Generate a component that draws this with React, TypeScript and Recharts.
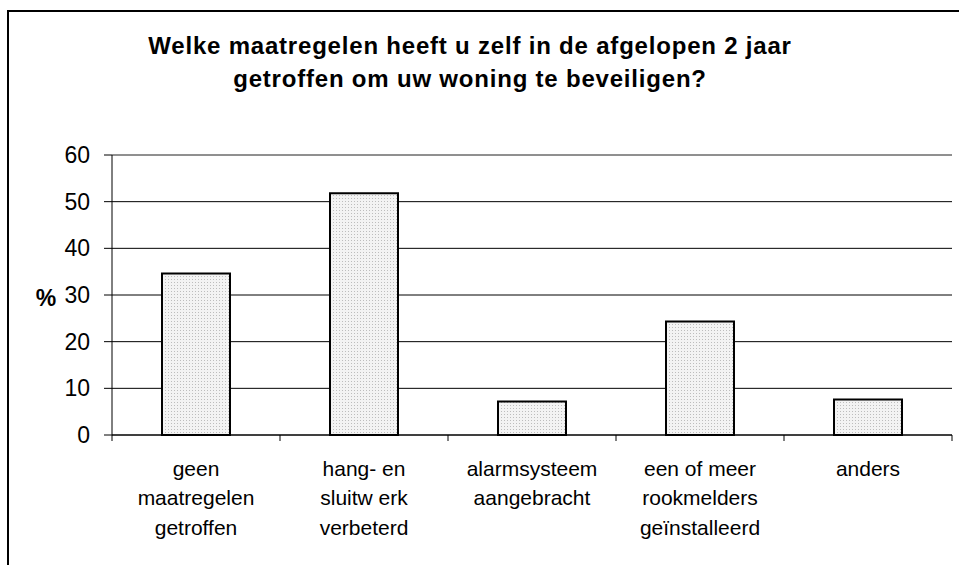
import { BarChart, Bar, XAxis, YAxis, CartesianGrid, ReferenceLine } from "recharts";

const titleLines = [
  "Welke maatregelen heeft u zelf in de afgelopen 2 jaar",
  "getroffen om uw woning te beveiligen?",
];
const categories = [
  "geen\nmaatregelen\ngetroffen",
  "hang- en\nsluitw erk\nverbeterd",
  "alarmsysteem\naangebracht",
  "een of meer\nrookmelders\ngeïnstalleerd",
  "anders",
];
const percentages = [34.6, 51.8, 7.2, 24.3, 7.6];
const yTicks = [0, 10, 20, 30, 40, 50, 60];
const yLabel = "%";

const data = categories.map((category, i) => ({ category, value: percentages[i] }));

const FONT = "'Liberation Sans', Arial, sans-serif";

function CategoryTick(props: any) {
  const { x, y, payload, index, visibleTicksCount } = props;
  const half = payload.offset ?? 84;
  const lines = String(payload.value).split("\n");
  const axisY = y - 6;
  const isLast = index === visibleTicksCount - 1;
  return (
    <g>
      <line x1={x - half} x2={x - half} y1={axisY} y2={axisY + 6} stroke="#000" />
      {isLast && <line x1={x + half} x2={x + half} y1={axisY} y2={axisY + 6} stroke="#000" />}
      <text x={x} y={y} textAnchor="middle" fontSize={21} fontFamily={FONT} fill="#000">
        {lines.map((line, i) => (
          <tspan key={i} x={x} dy={i === 0 ? 35 : 29.3}>
            {line}
          </tspan>
        ))}
      </text>
    </g>
  );
}

export default function App() {
  return (
    <div style={{ position: "absolute", left: 0, top: 0, width: 959, height: 565, overflow: "hidden", background: "#fff" }}>
      <div
        style={{
          position: "absolute",
          left: 7,
          top: 10,
          width: 2000,
          height: 2000,
          borderLeft: "2px solid #000",
          borderTop: "2px solid #000",
        }}
      />
      <BarChart
        width={959}
        height={565}
        data={data}
        margin={{ top: 155, right: 7, left: 0, bottom: 0 }}
        style={{ position: "absolute", left: 0, top: 0 }}
      >
        <defs>
          <pattern id="dots" width="3" height="3" patternUnits="userSpaceOnUse">
            <rect width="3" height="3" fill="#f3f3f3" />
            <rect width="1" height="1" fill="#bdbdbd" />
          </pattern>
        </defs>
        <CartesianGrid vertical={false} stroke="#000" />
        <XAxis
          dataKey="category"
          height={130}
          interval={0}
          tickLine={false}
          tickSize={6}
          tickMargin={0}
          axisLine={{ stroke: "#000" }}
          tick={<CategoryTick />}
        />
        <YAxis
          width={112}
          domain={[0, 60]}
          ticks={yTicks}
          interval={0}
          tickSize={8}
          tickMargin={14}
          axisLine={{ stroke: "#000" }}
          tickLine={{ stroke: "#000" }}
          tick={{ fontSize: 23, fill: "#000", fontFamily: FONT }}
        />
        <YAxis
          yAxisId="right"
          orientation="right"
          width={0}
          domain={[0, 60]}
          tick={false}
          tickLine={false}
          axisLine={{ stroke: "#a0a0a0" }}
        />
        <ReferenceLine y={60} stroke="#a0a0a0" />
        <Bar
          dataKey="value"
          barSize={68}
          fill="url(#dots)"
          stroke="#000"
          strokeWidth={2}
          isAnimationActive={false}
        />
      </BarChart>
      <svg width={959} height={565} style={{ position: "absolute", left: 0, top: 0, pointerEvents: "none" }}>
        {titleLines.map((line, i) => (
          <text
            key={i}
            x={470}
            y={54 + i * 33}
            textAnchor="middle"
            fontSize={24}
            fontWeight="bold"
            letterSpacing={0.8}
            fontFamily={FONT}
            fill="#000"
          >
            {line}
          </text>
        ))}
        <text x={46} y={306} textAnchor="middle" fontSize={23} fontWeight="bold" fontFamily={FONT} fill="#000">
          {yLabel}
        </text>
      </svg>
    </div>
  );
}
